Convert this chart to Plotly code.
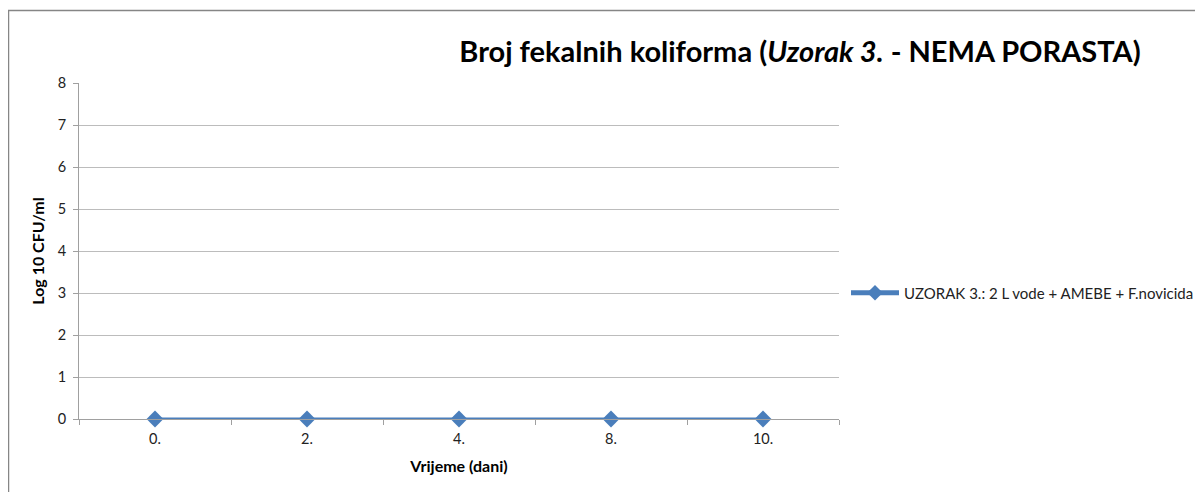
import plotly.graph_objects as go

categories = ["0.", "2.", "4.", "8.", "10."]
values = [0, 0, 0, 0, 0]
series_name = "UZORAK 3.: 2 L vode + AMEBE + F.novicida"
y_ticks = [0, 1, 2, 3, 4, 5, 6, 7, 8]

W, H = 1203, 492
OFF = 8  # page body margin
L, R, T, B = 79 - OFF, 839 - OFF, 83 - OFF, 419 - OFF

def px(x):
    return (x - OFF - L) / (R - L)

def py(y):
    return (B - (y - OFF)) / (B - T)

FONT = "Lato"
fig = go.Figure()
fig.add_trace(go.Scatter(
    x=categories, y=values, mode="lines+markers", name=series_name,
    line=dict(color="#4a7ebb", width=3),
    marker=dict(symbol="diamond", size=13, color="#4a7ebb"),
    cliponaxis=False,
))

fig.update_layout(
    width=W, height=H,
    margin=dict(l=L, r=W - R, t=T, b=H - B),
    paper_bgcolor="white", plot_bgcolor="white",
    font=dict(family=FONT, size=14, color="#222"),
    title=dict(
        text="Broj fekalnih koliforma (<i>Uzorak 3.</i> - NEMA PORASTA)",
        font=dict(family=FONT, size=29, color="black", weight="bold"),
        x=(800 - OFF) / W, xref="container", xanchor="center",
        y=1 - (52 - OFF) / H, yref="container", yanchor="middle",
    ),
    showlegend=True,
    legend=dict(
        x=px(846), y=py(293), xanchor="left", yanchor="middle",
        font=dict(family=FONT, size=15, color="#222"),
        bgcolor="rgba(0,0,0,0)", itemwidth=48, itemsizing="constant",
    ),
    xaxis=dict(
        type="category", range=[-0.5, 4.5],
        showgrid=False, tickson="boundaries",
        ticks="outside", ticklen=5, tickcolor="#a0a0a0",
        showline=True, linecolor="#a0a0a0", linewidth=1,
        zeroline=False, ticklabelstandoff=7,
        title=dict(text="<b>Vrijeme (dani)</b>", font=dict(family=FONT, size=16, color="black"), standoff=14),
        tickfont=dict(size=14.5, color="#222"),
    ),
    yaxis=dict(
        range=[0, 8], tickvals=y_ticks,
        showgrid=True, gridcolor="#bcbcbc", gridwidth=1,
        ticks="outside", ticklen=5, tickcolor="#a0a0a0",
        showline=True, linecolor="#a0a0a0", linewidth=1,
        zeroline=False, ticklabelstandoff=4,
        title=dict(text="<b>Log 10 CFU/ml</b>", font=dict(family=FONT, size=16, color="black"), standoff=9),
        tickfont=dict(size=14.5, color="#222"),
    ),
    shapes=[dict(
        type="rect", xref="paper", yref="paper",
        x0=px(8.5), x1=px(1225), y0=py(515), y1=py(10.5),
        line=dict(color="#868686", width=1.5), fillcolor="rgba(0,0,0,0)", layer="below",
    )],
)

fig.write_html("out.html")
